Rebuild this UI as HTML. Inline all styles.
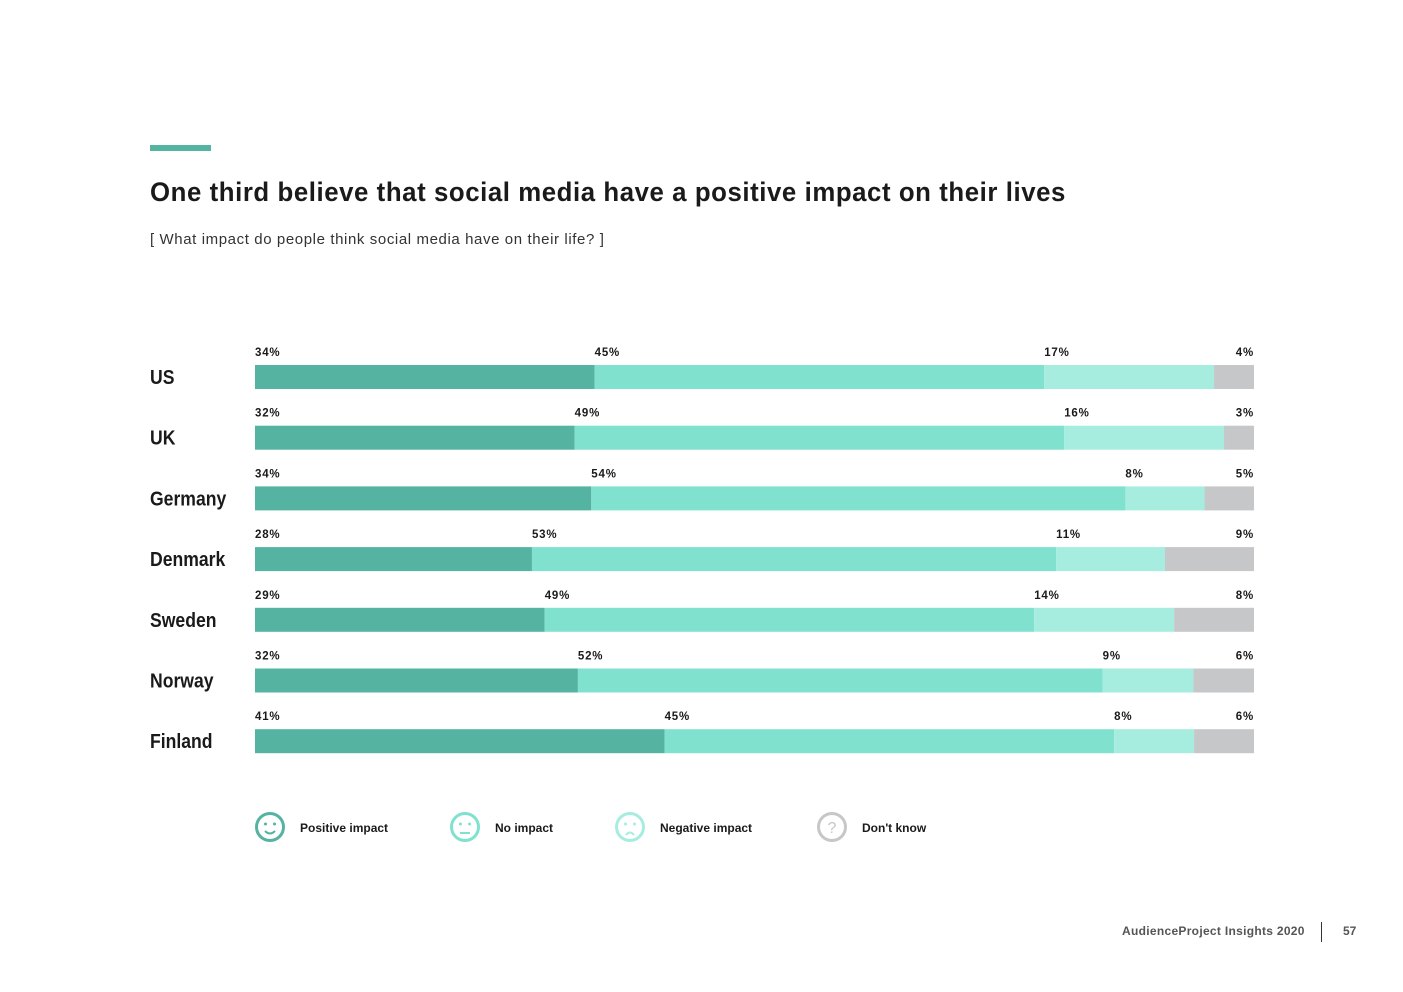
<!DOCTYPE html>
<html><head><meta charset="utf-8"><style>
body{margin:0;width:1403px;height:992px;background:#fff;font-family:"Liberation Sans",sans-serif;position:relative;overflow:hidden;color:#1a1a1a}
.abs{position:absolute}
</style></head><body>
<div class="abs" style="left:150px;top:145px;width:61px;height:6px;background:#55b3a2"></div>
<div class="abs" style="left:150px;top:177px;font-size:27px;font-weight:bold;letter-spacing:0.6px;transform:scaleX(0.955);transform-origin:left;white-space:nowrap">One third believe that social media have a positive impact on their lives</div>
<div class="abs" style="left:150px;top:231px;font-size:15px;color:#333;letter-spacing:0.6px;white-space:nowrap">[ What impact do people think social media have on their life? ]</div>
<svg class="abs" style="left:0;top:0" width="1403" height="992" id="chart"></svg>
<div class="abs" style="left:1122px;top:924px;font-size:12px;font-weight:bold;color:#555;letter-spacing:0.3px">AudienceProject Insights 2020</div>
<div class="abs" style="left:1321px;top:922px;width:1px;height:20px;background:#333"></div>
<div class="abs" style="left:1343px;top:924px;font-size:12px;font-weight:bold;color:#555">57</div>
<script>
const countries=["US","UK","Germany","Denmark","Sweden","Norway","Finland"];
const positive=[34,32,34,28,29,32,41];
const noImpact=[45,49,54,53,49,52,45];
const negative=[17,16,8,11,14,9,8];
const dontKnow=[4,3,5,9,8,6,6];
const seriesNames=["Positive impact","No impact","Negative impact","Don't know"];
const colors=["#55b3a2","#80e1cf","#a6eddf","#c6c7c9"];
const svg=document.getElementById('chart');
const NS="http://www.w3.org/2000/svg";
const x0=255,W=999,rowTop=365,rowStep=60.7,barH=24;
function xs(frac){return x0+frac*W;}
function yrow(i){return rowTop+i*rowStep;}
function mk(t,a){const e=document.createElementNS(NS,t);for(const k in a)e.setAttribute(k,a[k]);svg.appendChild(e);return e;}
const series=[positive,noImpact,negative,dontKnow];
countries.forEach((c,i)=>{
  const y=yrow(i);
  const lab=mk('text',{x:150,y:y+19,'font-size':20,'font-weight':'bold',fill:'#1a1a1a','font-family':'Liberation Sans, sans-serif',transform:`translate(150 0) scale(0.88 1) translate(-150 0)`});
  lab.textContent=c;
  
  
  const total=series.reduce((s,a)=>s+a[i],0);
  let cum=0;
  series.forEach((arr,j)=>{
    const a=xs(cum/total),b=xs((cum+arr[i])/total);
    const r=mk('rect',{x:a,y:y,width:b-a,height:barH,fill:colors[j]});
    
    
    const last=j===series.length-1;
    const t=mk('text',{x:last?x0+W:a,y:y-9,'font-size':11.5,'font-weight':'bold',fill:'#1a1a1a','letter-spacing':'0.8','text-anchor':last?'end':'start','font-family':'Liberation Sans, sans-serif'});
    t.textContent=arr[i]+'%';
    
    
    cum+=arr[i];
  });
});
const legX=[270,465,630,832];
seriesNames.forEach((n,j)=>{
  const cx=legX[j],cy=827;
  const g=mk('circle',{cx:cx,cy:cy,r:13.5,fill:'none',stroke:colors[j],'stroke-width':3});
  
  
  if(j<3){
    mk('circle',{cx:cx-4.5,cy:cy-3,r:1.5,fill:colors[j]});
    mk('circle',{cx:cx+4.5,cy:cy-3,r:1.5,fill:colors[j]});
    const d=j===0?`M${cx-5} ${cy+4} Q${cx} ${cy+9} ${cx+5} ${cy+4}`:j===1?`M${cx-5} ${cy+6} L${cx+5} ${cy+6}`:`M${cx-4} ${cy+8} Q${cx} ${cy+3} ${cx+4} ${cy+8}`;
    mk('path',{d:d,stroke:colors[j],'stroke-width':2,fill:'none'});
  }else{
    const q=mk('text',{x:cx,y:cy+6,'font-size':16,fill:colors[j],'text-anchor':'middle','font-family':'Liberation Sans, sans-serif'});q.textContent='?';
  }
  const t=mk('text',{x:cx+30,y:cy+5,'font-size':12,'font-weight':'bold',fill:'#1a1a1a','font-family':'Liberation Sans, sans-serif'});
  t.textContent=n;
  
  
});
</script>
</body></html>
